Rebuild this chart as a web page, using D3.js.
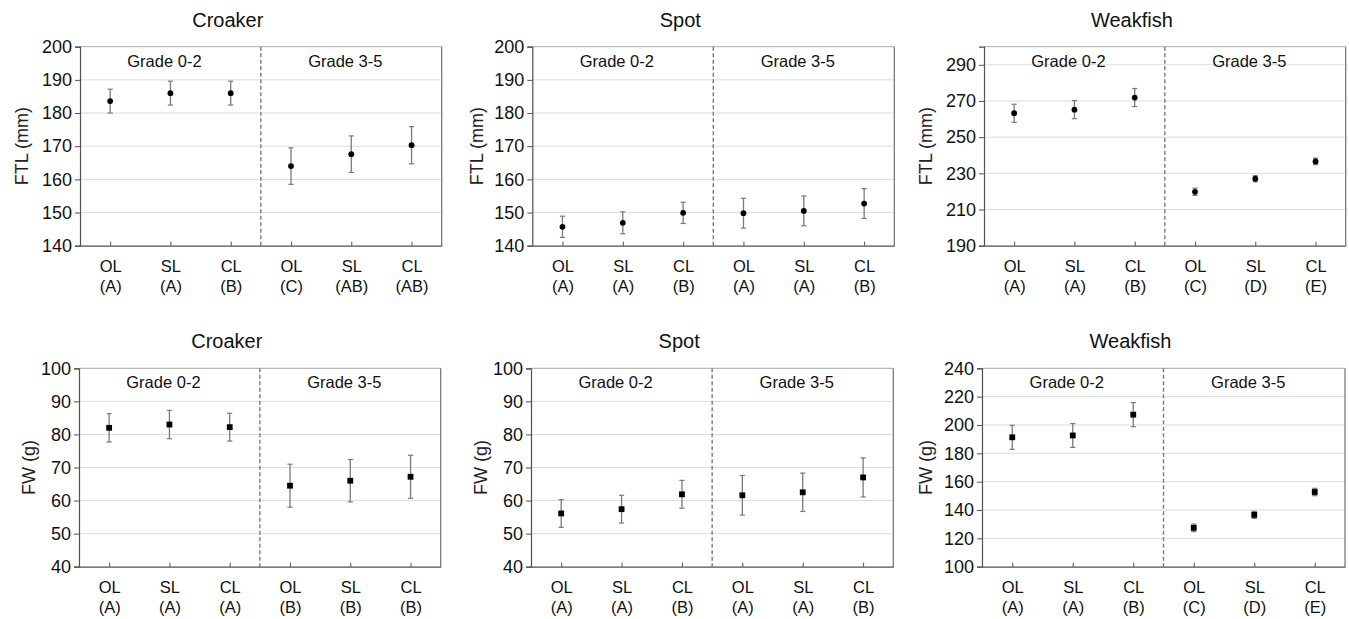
<!DOCTYPE html>
<html>
<head>
<meta charset="utf-8">
<script src="https://cdn.jsdelivr.net/npm/d3@7"></script>
<style>
  html, body { margin: 0; padding: 0; background: #fff; }
  svg { display: block; font-family: "Liberation Sans", Arial, sans-serif; }
</style>
</head>
<body>
<svg id="chart" width="1349" height="619"></svg>
<script>
// ---------------- DATA ----------------
const treatments = ["OL", "SL", "CL", "OL", "SL", "CL"];
const gradeLabels = ["Grade 0-2", "Grade 3-5"];
const species = ["Croaker", "Spot", "Weakfish"];

const croakerFTLMean = [183.6, 186.0, 186.0, 164.0, 167.6, 170.3];
const croakerFTLErr  = [3.6, 3.6, 3.6, 5.5, 5.5, 5.6];
const croakerFTLLetters = ["A", "A", "B", "C", "AB", "AB"];

const spotFTLMean = [145.7, 146.9, 149.9, 149.8, 150.5, 152.7];
const spotFTLErr  = [3.2, 3.3, 3.2, 4.5, 4.5, 4.5];
const spotFTLLetters = ["A", "A", "B", "A", "A", "B"];

const weakfishFTLMean = [263.2, 265.2, 271.9, 219.8, 227.0, 236.6];
const weakfishFTLErr  = [5.0, 5.0, 5.0, 2.0, 1.7, 1.8];
const weakfishFTLLetters = ["A", "A", "B", "C", "D", "E"];

const croakerFWMean = [82.0, 83.0, 82.2, 64.5, 66.0, 67.2];
const croakerFWErr  = [4.3, 4.3, 4.2, 6.5, 6.4, 6.5];
const croakerFWLetters = ["A", "A", "A", "B", "B", "B"];

const spotFWMean = [56.1, 57.4, 61.9, 61.6, 62.5, 67.0];
const spotFWErr  = [4.2, 4.2, 4.2, 6.0, 5.8, 5.9];
const spotFWLetters = ["A", "A", "B", "A", "A", "B"];

const weakfishFWMean = [191.3, 192.6, 207.3, 127.4, 136.6, 152.7];
const weakfishFWErr  = [8.5, 8.4, 8.5, 2.7, 2.5, 2.6];
const weakfishFWLetters = ["A", "A", "B", "C", "D", "E"];

const ftlTicksSmall = [140, 150, 160, 170, 180, 190, 200];
const ftlTicksWeak  = [190, 210, 230, 250, 270, 290];
const fwTicksSmall  = [40, 50, 60, 70, 80, 90, 100];
const fwTicksWeak   = [100, 120, 140, 160, 180, 200, 220, 240];

// ---------------- PANELS ----------------
const panels = [
  { title: species[0], yLabel: "FTL (mm)", domain: [140, 200], ticks: ftlTicksSmall, mean: croakerFTLMean, err: croakerFTLErr, letters: croakerFTLLetters, marker: "circle",
    left: 80, right: 441.7, top: 46.7, bottom: 245.7, yTitleDx: -57 },
  { title: species[1], yLabel: "FTL (mm)", domain: [140, 200], ticks: ftlTicksSmall, mean: spotFTLMean, err: spotFTLErr, letters: spotFTLLetters, marker: "circle",
    left: 532.3, right: 894.3, top: 46.7, bottom: 245.7, yTitleDx: -54 },
  { title: species[2], yLabel: "FTL (mm)", domain: [190, 300], ticks: ftlTicksWeak, mean: weakfishFTLMean, err: weakfishFTLErr, letters: weakfishFTLLetters, marker: "circle",
    left: 984, right: 1345.7, top: 46.7, bottom: 245.7, yTitleDx: -57 },
  { title: species[0], yLabel: "FW (g)", domain: [40, 100], ticks: fwTicksSmall, mean: croakerFWMean, err: croakerFWErr, letters: croakerFWLetters, marker: "square",
    left: 79, right: 440.7, top: 368.3, bottom: 566.7, yTitleDx: -49 },
  { title: species[1], yLabel: "FW (g)", domain: [40, 100], ticks: fwTicksSmall, mean: spotFWMean, err: spotFWErr, letters: spotFWLetters, marker: "square",
    left: 531, right: 893.3, top: 368.3, bottom: 566.7, yTitleDx: -49 },
  { title: species[2], yLabel: "FW (g)", domain: [100, 240], ticks: fwTicksWeak, mean: weakfishFWMean, err: weakfishFWErr, letters: weakfishFWLetters, marker: "square",
    left: 982, right: 1345, top: 368.3, bottom: 566.7, yTitleDx: -55 }
];

const svg = d3.select("#chart");

panels.forEach(p => {
  const g = svg.append("g");
  const idx = d3.range(treatments.length);
  const x = d3.scalePoint().domain(idx).range([p.left, p.right]).padding(0.5);
  const y = d3.scaleLinear().domain(p.domain).range([p.bottom, p.top]);
  const midX = (p.left + p.right) / 2;

  // gridlines
  g.append("g").selectAll("line").data(p.ticks.filter(t => t !== p.domain[0] && t !== p.domain[1]))
    .join("line")
    .attr("x1", p.left).attr("x2", p.right)
    .attr("y1", d => y(d)).attr("y2", d => y(d))
    .attr("stroke", "#dcdcdc").attr("stroke-width", 1);

  // frame top and right
  g.append("line").attr("x1", p.left).attr("x2", p.right).attr("y1", p.top).attr("y2", p.top)
    .attr("stroke", "#a8a8a8").attr("stroke-width", 1);
  g.append("line").attr("x1", p.right).attr("x2", p.right).attr("y1", p.top).attr("y2", p.bottom)
    .attr("stroke", "#707070").attr("stroke-width", 1.2);

  // dashed divider
  g.append("line").attr("x1", midX).attr("x2", midX).attr("y1", p.top).attr("y2", p.bottom)
    .attr("stroke", "#7a7a7a").attr("stroke-width", 1.4).attr("stroke-dasharray", "4,2.5");

  // y axis
  const yAxis = g.append("g").attr("transform", `translate(${p.left},0)`)
    .call(d3.axisLeft(y).tickValues(p.ticks).tickSize(5).tickPadding(3).tickFormat(d3.format("d")));
  yAxis.select(".domain").attr("stroke", "#505050").attr("stroke-width", 1.2);
  yAxis.selectAll(".tick line").attr("stroke", "#505050");
  yAxis.selectAll(".tick text").attr("font-size", 18).attr("fill", "#111")
    .attr("font-family", "Liberation Sans, Arial, sans-serif");

  // x axis (ticks inward)
  const xAxis = g.append("g").attr("transform", `translate(0,${p.bottom})`)
    .call(d3.axisBottom(x).tickSizeInner(-4).tickSizeOuter(0).tickFormat(""));
  xAxis.select(".domain").attr("stroke", "#505050").attr("stroke-width", 1.2);
  xAxis.selectAll(".tick line").attr("stroke", "#505050");
  xAxis.selectAll(".tick text").remove();
  xAxis.selectAll(".tick").append("text")
    .attr("text-anchor", "middle").attr("fill", "#111").attr("font-size", 16.5)
    .attr("font-family", "Liberation Sans, Arial, sans-serif")
    .each(function(d) {
      const t = d3.select(this);
      t.append("tspan").attr("x", 0).attr("y", 26).text(treatments[d]);
      t.append("tspan").attr("x", 0).attr("y", 46).text("(" + p.letters[d] + ")");
    });

  // grade labels
  g.selectAll("text.grade").data(gradeLabels).join("text")
    .attr("class", "grade")
    .attr("x", (d, i) => (i === 0 ? (p.left + midX) / 2 : (midX + p.right) / 2) - 6)
    .attr("y", p.top + 20)
    .attr("text-anchor", "middle").attr("font-size", 16.5).attr("fill", "#111")
    .text(d => d);

  // title
  g.append("text").attr("x", (p.left + p.right) / 2 - 33).attr("y", p.top - 20)
    .attr("text-anchor", "middle").attr("font-size", 20).attr("fill", "#111")
    .text(p.title);

  // y title
  g.append("text")
    .attr("transform", `translate(${p.left + p.yTitleDx},${(p.top + p.bottom) / 2}) rotate(-90)`)
    .attr("text-anchor", "middle").attr("dominant-baseline", "middle")
    .attr("font-size", 18).attr("fill", "#222")
    .text(p.yLabel);

  // error bars
  const eb = g.append("g").selectAll("g").data(idx).join("g");
  eb.append("line")
    .attr("x1", i => x(i)).attr("x2", i => x(i))
    .attr("y1", i => y(p.mean[i] + p.err[i])).attr("y2", i => y(p.mean[i] - p.err[i]))
    .attr("stroke", "#7a7a7a").attr("stroke-width", 1.3);
  [1, -1].forEach(s => {
    eb.append("line")
      .attr("x1", i => x(i) - 2.6).attr("x2", i => x(i) + 2.6)
      .attr("y1", i => y(p.mean[i] + s * p.err[i])).attr("y2", i => y(p.mean[i] + s * p.err[i]))
      .attr("stroke", "#7a7a7a").attr("stroke-width", 1.2);
  });

  // markers
  if (p.marker === "circle") {
    eb.append("circle").attr("cx", i => x(i)).attr("cy", i => y(p.mean[i])).attr("r", 2.9).attr("fill", "#000");
  } else {
    eb.append("rect").attr("x", i => x(i) - 2.9).attr("y", i => y(p.mean[i]) - 2.9)
      .attr("width", 5.8).attr("height", 5.8).attr("fill", "#000");
  }
});
</script>
</body>
</html>
